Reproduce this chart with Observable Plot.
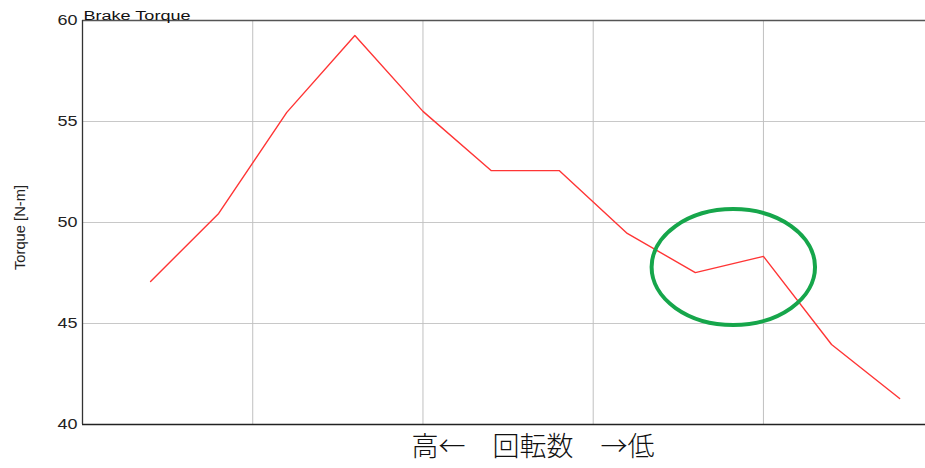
<!DOCTYPE html>
<html>
<head>
<meta charset="utf-8">
<script src="https://cdn.jsdelivr.net/npm/d3@7"></script>
<script src="https://cdn.jsdelivr.net/npm/@observablehq/plot@0.6"></script>
<style>
  body { margin: 0; background: #fff; }
  #chart svg { display: block; }
</style>
</head>
<body>
<div id="chart"></div>
<script>
// Measurement steps, ordered from high to low rotational speed
const step = [1, 2, 3, 4, 5, 6, 7, 8, 9, 10, 11, 12];
// Brake torque at each step [N-m]
const torque = [47.08, 50.45, 55.45, 59.26, 55.5, 52.57, 52.57, 49.46, 47.52, 48.32, 43.96, 41.29];
// Axis ticks
const yTicks = [40, 45, 50, 55, 60];
const xGrid = [2.5, 5, 7.5, 10];
// Highlighted region around the local bump (center and radii in data units)
const highlight = { x: 9.565, y: 47.77, rx: 1.2, ry: 2.87 };

const data = step.map((s, i) => ({ step: s, torque: torque[i] }));

// Custom mark: an ellipse placed through the chart's scales
function ellipseMark(index, scales) {
  const cx = scales.x(highlight.x), cy = scales.y(highlight.y);
  const rx = Math.abs(scales.x(highlight.x + highlight.rx) - cx);
  const ry = Math.abs(scales.y(highlight.y + highlight.ry) - cy);
  return d3.create("svg:ellipse")
    .attr("cx", cx).attr("cy", cy).attr("rx", rx).attr("ry", ry)
    .attr("fill", "none").attr("stroke", "#16a64b").attr("stroke-width", 4)
    .node();
}

const chart = Plot.plot({
  width: 925,
  height: 468,
  marginLeft: 82,
  marginRight: 0,
  marginTop: 20,
  marginBottom: 44,
  style: { fontFamily: "'Liberation Sans', Arial, sans-serif", color: "#222", background: "#fff" },
  x: { domain: [0, 12.38], axis: null },
  y: { domain: [40, 60], axis: null },
  marks: [
    Plot.gridY(yTicks, { stroke: "#c8c8c8", strokeOpacity: 1 }),
    Plot.gridX(xGrid, { stroke: "#c0c0c0", strokeOpacity: 1 }),
    Plot.ruleY([60], { stroke: "#555", strokeWidth: 1.3 }),
    Plot.ruleY([40], { stroke: "#222", strokeWidth: 1.3 }),
    Plot.ruleX([0], { stroke: "#333", strokeWidth: 1.3 }),
    Plot.axisY(yTicks, { tickSize: 0, tickPadding: 5, fontSize: 15, label: null }),
    Plot.line(data, { x: "step", y: "torque", stroke: "#ff3535", strokeWidth: 1.4 }),
    ellipseMark,
    Plot.text(["Brake Torque"], {
      frameAnchor: "top-left", textAnchor: "start", lineAnchor: "bottom",
      dx: 1, dy: -1, fontSize: 12.5, fill: "#111"
    }),
    Plot.text(["Torque [N-m]"], {
      frameAnchor: "left", textAnchor: "middle", rotate: -90, dx: -62, dy: 5,
      fontSize: 15.5, fill: "#222"
    }),
    Plot.text(["高←　回転数　→低"], {
      frameAnchor: "bottom", dx: 29, dy: 31, fontSize: 27, fill: "#111",
      fontFamily: "'Noto Sans CJK JP', sans-serif", fontWeight: 300
    })
  ]
});

// Wide glyph proportions for the title, axis label and tick labels
d3.select(chart).selectAll("text").each(function () {
  const t = this.textContent;
  let len = null;
  if (t === "Brake Torque") len = 107;
  else if (t === "Torque [N-m]") len = 85;
  else if (/^\d\d$/.test(t)) len = 20;
  if (len) {
    this.setAttribute("textLength", len);
    this.setAttribute("lengthAdjust", "spacingAndGlyphs");
  }
});

document.getElementById("chart").appendChild(chart);
</script>
</body>
</html>
